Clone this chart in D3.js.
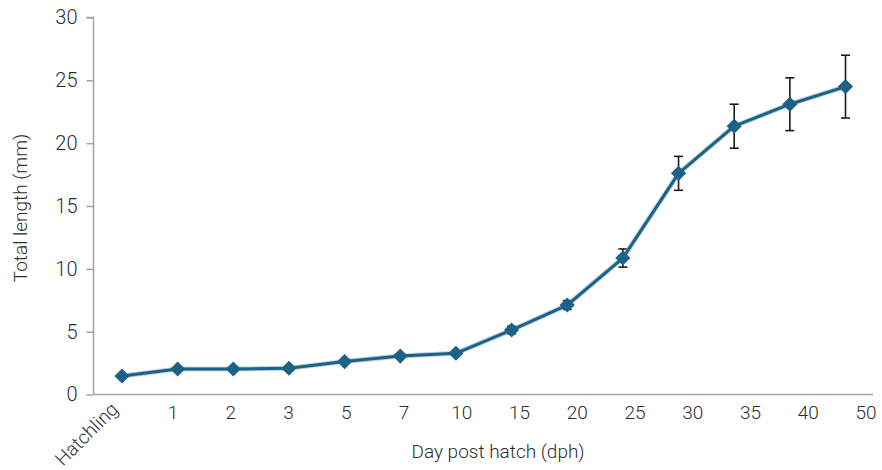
<!DOCTYPE html>
<html>
<head>
<meta charset="utf-8">
<script src="https://cdn.jsdelivr.net/npm/d3@7"></script>
<style>
  html, body { margin: 0; padding: 0; background: #fff; }
  svg { display: block; font-family: Roboto, "Liberation Sans", sans-serif; }
</style>
</head>
<body>
<svg id="chart" width="882" height="470"></svg>
<script>
const categories = ["Hatchling", "1", "2", "3", "5", "7", "10", "15", "20", "25", "30", "35", "40", "50"];
const lengths = [1.47, 2.03, 2.03, 2.09, 2.62, 3.06, 3.28, 5.13, 7.12, 10.86, 17.6, 21.35, 23.1, 24.5];
const errors = [0.1, 0.1, 0.1, 0.1, 0.15, 0.15, 0.2, 0.3, 0.35, 0.72, 1.35, 1.75, 2.1, 2.5];
const yTicks = [0, 5, 10, 15, 20, 25, 30];
const xTitle = "Day post hatch (dph)";
const yTitle = "Total length (mm)";

const data = categories.map((c, i) => ({ cat: c, v: lengths[i], e: errors[i] }));

const svg = d3.select("#chart");
const lineColor = "#1c6286";
const axisColor = "#a3a3a3";
const textColor = "#2e2e2e";

const y = d3.scaleLinear().domain([0, 30]).range([394.5, 17.5]);
const x = d3.scalePoint().domain(categories).range([122, 845.5]);
const xLab = d3.scalePoint().domain(categories).range([115.25, 866]);

// Y axis
const yAxis = d3.axisLeft(y).tickValues(yTicks).tickSize(7).tickPadding(9).tickFormat(d3.format("d"));
const gy = svg.append("g").attr("transform", "translate(93.5,0)").call(yAxis);
gy.select(".domain").attr("stroke", axisColor).attr("stroke-width", 1.5).attr("d", "M-7," + y(30) + "H0V" + y(0));
gy.selectAll(".tick line").attr("stroke", axisColor).attr("stroke-width", 1.5);
gy.selectAll(".tick text").attr("fill", textColor).style("font-size", "20px").style("font-weight", 300)
  .attr("font-family", "Roboto");

// X axis baseline
svg.append("line").attr("x1", 93.5).attr("x2", 873).attr("y1", y(0)).attr("y2", y(0))
  .attr("stroke", axisColor).attr("stroke-width", 1.5);

// X labels
svg.append("g").selectAll("text").data(categories).join("text")
  .attr("fill", textColor).style("font-size", "19px").style("font-weight", 300)
  .attr("text-anchor", (d, i) => i === 0 ? "end" : "middle")
  .attr("transform", (d, i) => i === 0
    ? `translate(${xLab(d) + 4},${y(0) + 16}) rotate(-45)`
    : `translate(${xLab(d)},${y(0) + 24})`)
  .text(d => d);

// Titles
svg.append("text").attr("x", 498).attr("y", 458).attr("text-anchor", "middle")
  .attr("fill", textColor).style("font-size", "19px").style("font-weight", 300).text(xTitle);
svg.append("text").attr("transform", "translate(27,208) rotate(-90)").attr("text-anchor", "middle")
  .attr("fill", textColor).style("font-size", "19px").style("font-weight", 300).text(yTitle);

// Error bars
const eb = svg.append("g").attr("stroke", "#1a1a1a").attr("stroke-width", 1.6);
data.forEach(d => {
  const cx = x(d.cat), top = y(d.v + d.e), bot = y(d.v - d.e);
  eb.append("line").attr("x1", cx).attr("x2", cx).attr("y1", top).attr("y2", bot);
  eb.append("line").attr("x1", cx - 4.5).attr("x2", cx + 4.5).attr("y1", top).attr("y2", top);
  eb.append("line").attr("x1", cx - 4.5).attr("x2", cx + 4.5).attr("y1", bot).attr("y2", bot);
});

// Line
const line = d3.line().x(d => x(d.cat)).y(d => y(d.v));
svg.append("path").datum(data).attr("d", line).attr("fill", "none")
  .attr("stroke", "#8fb3c6").attr("stroke-width", 5).attr("stroke-linejoin", "round").attr("opacity", 0.6);
svg.append("path").datum(data).attr("d", line).attr("fill", "none")
  .attr("stroke", lineColor).attr("stroke-width", 3).attr("stroke-linejoin", "round");

// Markers
const sym = d3.symbol().type(d3.symbolSquare).size(115);
svg.append("g").selectAll("path").data(data).join("path")
  .attr("d", sym)
  .attr("transform", d => `translate(${x(d.cat)},${y(d.v)}) rotate(45)`)
  .attr("fill", lineColor);
</script>
</body>
</html>
